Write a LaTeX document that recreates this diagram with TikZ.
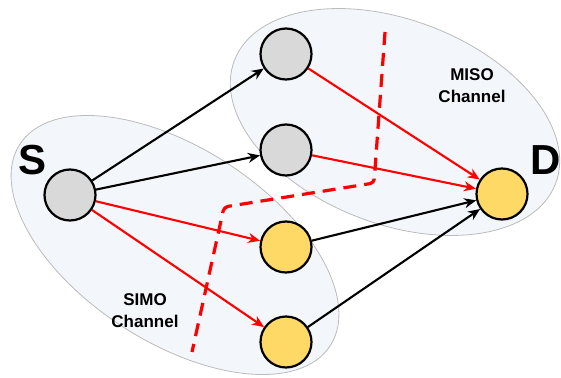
\documentclass[tikz,border=0pt]{standalone}
\usepackage{fontspec}
\setmainfont{Liberation Sans}
\usetikzlibrary{arrows.meta}
\definecolor{ellfill}{HTML}{F3F6FA}
\definecolor{ellline}{HTML}{BBBBBB}
\definecolor{gnode}{HTML}{D9D9D9}
\definecolor{ynode}{HTML}{FFD966}
\tikzset{
  region/.style={draw=ellline, fill=ellfill, line width=0.8pt},
  gray node/.style={circle, draw=black, line width=2.2pt, fill=gnode, minimum size=51pt, inner sep=0pt},
  yellow node/.style={circle, draw=black, line width=2.2pt, fill=ynode, minimum size=51pt, inner sep=0pt},
  blk/.style={draw=black, line width=2.1pt, -{Stealth[length=12pt,width=10pt]}},
  rd/.style={draw=red, line width=2.1pt, -{Stealth[length=12pt,width=10pt]}},
  big/.style={font=\bfseries\fontsize{42}{44}\selectfont},
  lbl/.style={font=\bfseries\fontsize{17}{22}\selectfont, align=center},
  cut/.style={draw=red, line width=3.2pt, dash pattern=on 13pt off 8pt, rounded corners=4pt}
}
\begin{document}
\begin{tikzpicture}[x=1pt,y=-1pt]
\useasboundingbox (0,0) rectangle (561,377);
% regions
\path[region] (395,122) ellipse [x radius=172, y radius=102, rotate=-21];
\path[region] (175,245) ellipse [x radius=185, y radius=97, rotate=-33];
% cut line
\coordinate (c1) at (385,32);
\coordinate (c2) at (374,183);
\coordinate (c3) at (224,207);
\coordinate (c4) at (192,352);
\draw[cut] (c1) -- (c2) -- (c3) -- (c4);
% nodes
\node[gray node] (s) at (70,195) {};
\node[gray node] (r1) at (286,54) {};
\node[gray node] (r2) at (286,150) {};
\node[yellow node] (r3) at (286,247) {};
\node[yellow node] (r4) at (286,342) {};
\node[yellow node] (d) at (502,194) {};
% edges
\draw[blk] (s) -- (r1);
\draw[blk] (s) -- (r2);
\draw[rd] (s) -- (r3);
\draw[rd] (s) -- (r4);
\draw[rd] (r1) -- (d);
\draw[rd] (r2) -- (d);
\draw[blk] (r3) -- (d);
\draw[blk] (r4) -- (d);
% labels
\node[big] (sl) at (33,160) {S};
\node[big] (dl) at (546,160) {D};
\node[lbl] (miso) at (472,86) {MISO\\Channel};
\node[lbl] (simo) at (145,311) {SIMO\\Channel};
\end{tikzpicture}
\end{document}
